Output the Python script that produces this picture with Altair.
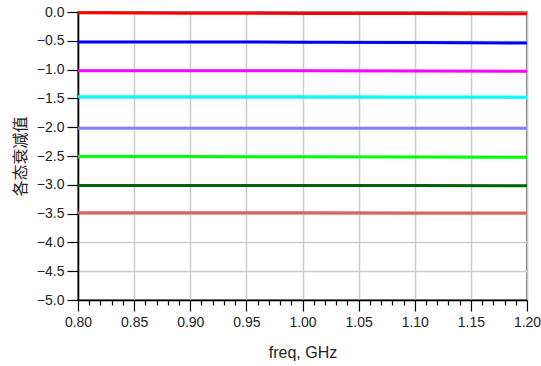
import altair as alt
import pandas as pd

freq = [0.80, 0.90, 1.00, 1.10, 1.20]

series_names = ["s1", "s2", "s3", "s4", "s5", "s6", "s7", "s8"]
s1 = [-0.015, -0.020, -0.025, -0.027, -0.030]
s2 = [-0.520, -0.520, -0.525, -0.530, -0.540]
s3 = [-1.020, -1.018, -1.020, -1.025, -1.030]
s4 = [-1.470, -1.470, -1.472, -1.475, -1.478]
s5 = [-2.020, -2.020, -2.020, -2.020, -2.020]
s6 = [-2.510, -2.510, -2.515, -2.518, -2.520]
s7 = [-3.010, -3.010, -3.012, -3.013, -3.015]
s8 = [-3.485, -3.485, -3.487, -3.490, -3.490]
series_values = [s1, s2, s3, s4, s5, s6, s7, s8]
series_colors = ["#ff0000", "#0000ff", "#ff00ff", "#00ffff",
                 "#8080ff", "#00ff00", "#006400", "#d96262"]

x_ticks = [round(0.80 + 0.01 * i, 2) for i in range(41)]
y_ticks = [0.0, -0.5, -1.0, -1.5, -2.0, -2.5, -3.0, -3.5, -4.0, -4.5, -5.0]

rows = []
for name, vals in zip(series_names, series_values):
    for f, v in zip(freq, vals):
        rows.append({"freq": f, "val": v, "series": name})
df = pd.DataFrame(rows)

major = "abs(round(datum.value * 100) % 5) < 0.5"

chart = alt.Chart(df).mark_line(strokeWidth=3).encode(
    x=alt.X("freq:Q",
            scale=alt.Scale(domain=[0.8, 1.2], nice=False, zero=False),
            axis=alt.Axis(
                values=x_ticks,
                labelExpr=f"{major} ? format(datum.value, '.2f') : ''",
                tickSize={"condition": {"test": major, "value": 11}, "value": 5},
                gridOpacity={"condition": {"test": major, "value": 1}, "value": 0},
                labelFlush=False,
                labelPadding=4,
                title="freq, GHz",
                titleFontSize=16,
                titlePadding=15,
            )),
    y=alt.Y("val:Q",
            scale=alt.Scale(domain=[-5, 0], nice=False),
            axis=alt.Axis(values=y_ticks, format=".1f", tickSize=11,
                          labelPadding=3,
                          title="各态衰减值", titleFont="Noto Sans CJK SC",
                          titleFontSize=16, titleFontWeight="normal",
                          titlePadding=8)),
    color=alt.Color("series:N",
                    scale=alt.Scale(domain=series_names, range=series_colors),
                    legend=None),
).properties(
    width=449, height=288,
    autosize=alt.AutoSizeParams(type="none"),
    padding={"left": 78, "top": 12, "right": 14, "bottom": 66},
).configure_view(
    stroke="#444444", strokeWidth=1.5
).configure_axis(
    labelFont="Liberation Sans", labelFontSize=14, labelColor="#222222",
    titleFont="Liberation Sans", titleFontWeight="normal", titleColor="#222222",
    domainColor="#000000", domainWidth=1.5, tickColor="#000000", tickWidth=1.2,
    gridColor="#cccccc", gridWidth=1.5,
)

chart.save("out.html", embed_options={"renderer": "svg", "actions": False})
